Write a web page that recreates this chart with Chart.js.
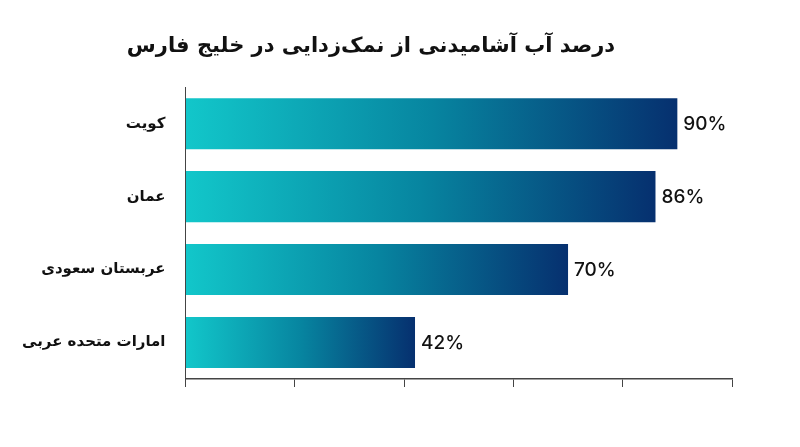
<!DOCTYPE html>
<html><head><meta charset="utf-8">
<script src="https://cdn.jsdelivr.net/npm/chart.js@4"></script>
<style>html,body{margin:0;background:#fff}#w{width:800px;height:447px}</style>
</head><body><div id="w"><canvas id="c"></canvas></div>
<script>
const categories = ['کویت','عمان','عربستان سعودی','امارات متحده عربی'];
const values = [90,86,70,42];
const titleText = 'درصد آب آشامیدنی از نمک‌زدایی در خلیج فارس';

const labelPlugin = {
  id:'lbl',
  afterDatasetsDraw(chart){
    const ctx=chart.ctx, meta=chart.getDatasetMeta(0);
    ctx.save();
    ctx.font='500 19px Inter, "Noto Sans", sans-serif';
    ctx.fillStyle='#111';ctx.textBaseline='middle';ctx.textAlign='left';
    meta.data.forEach((b,i)=>ctx.fillText(values[i]+'%', b.x+6, b.y+1));
    ctx.restore();
  }
};
new Chart(document.getElementById('c'),{
  type:'bar',
  data:{labels:categories,datasets:[{data:values,
    backgroundColor(ctx){
      const ch=ctx.chart, a=ch.chartArea; if(!a) return '#0a6';
      const x0=ch.scales.x.getPixelForValue(0), x1=ch.scales.x.getPixelForValue(ctx.raw);
      const g=ch.ctx.createLinearGradient(x0,0,x1,0);
      g.addColorStop(0,'#12c7ca');g.addColorStop(0.5,'#0785a0');g.addColorStop(1,'#06306f');
      return g;
    },
    categoryPercentage:0.7,barPercentage:1}]},
  options:{indexAxis:'y',responsive:true,maintainAspectRatio:false,animation:false,
    layout:{padding:{left:10,right:68,top:0,bottom:60}},
    plugins:{legend:{display:false},tooltip:{enabled:false},
      title:{display:true,text:titleText,color:'#111',font:{family:'"DejaVu Sans"',size:21,weight:'bold'},padding:{top:34,bottom:28}}},
    scales:{
      x:{min:0,max:100,ticks:{stepSize:20,display:false},
        grid:{display:true,drawOnChartArea:false,drawTicks:true,tickLength:8,color:'#444'},
        border:{display:true,color:'#444',width:1.5}},
      y:{grid:{display:false},border:{display:true,color:'#444',width:1},
        ticks:{color:'#111',padding:12,font:{family:'"DejaVu Sans"',size:15,weight:'bold'}}}
    }},
  plugins:[labelPlugin]
});
</script></body></html>
